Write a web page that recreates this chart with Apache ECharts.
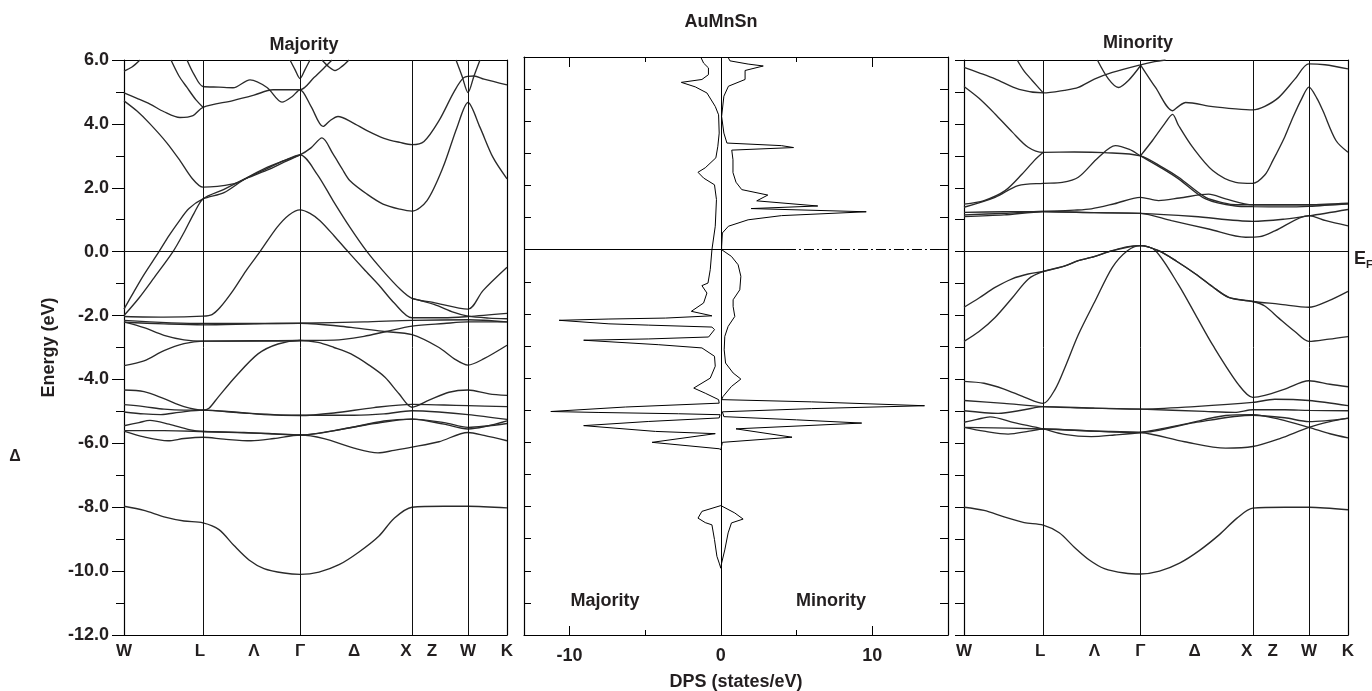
<!DOCTYPE html>
<html><head><meta charset="utf-8">
<script src="https://cdn.jsdelivr.net/npm/echarts@6/dist/echarts.min.js"></script>
<style>html,body{margin:0;padding:0;background:#fff}#c{width:1372px;height:691px}</style>
</head><body><div id="c"></div>
<script>
// ---------- data ----------
// k-path positions of high-symmetry points (W, L, Γ, X, W, K)
const kSymLines = [79, 176, 288, 344];
const kLabelNames = ['W', 'L', 'Λ', 'Γ', 'Δ', 'X', 'Z', 'W', 'K'];
const kLabelValues = [0, 76, 130, 176, 230, 282, 308, 344, 383];
const dosTickMajor = [-10, 10];
const dosTickMinor = [-5, 5];
const dosLabelValues = [-10, 0, 10];

// Majority bands: [k, E(eV)]
const majS = [[0,-7.97],[20,-8.1],[40,-8.3],[60,-8.43],[79,-8.49],[95,-8.7],[110,-9.2],[125,-9.65],[140,-9.92],[160,-10.06],[176,-10.1],[195,-10.03],[215,-9.8],[235,-9.4],[255,-8.9],[270,-8.35],[288,-8.0],[320,-7.97],[344,-7.97],[383,-8.02]];
const majD1 = [[0,-4.79],[20,-4.85],[40,-4.93],[60,-4.96],[79,-4.96],[110,-5.02],[140,-5.1],[176,-5.13],[210,-5.05],[250,-4.88],[288,-4.78],[320,-4.8],[344,-4.82],[383,-4.85]];
const majD2 = [[0,-5.02],[20,-5.08],[37,-5.1],[55,-5.03],[79,-4.96],[120,-5.05],[176,-5.12],[230,-5.12],[260,-5.08],[288,-4.98],[315,-5.02],[344,-5.1],[383,-5.25]];
const majD3 = [[0,-5.45],[15,-5.35],[26,-5.28],[45,-5.4],[65,-5.57],[79,-5.63],[120,-5.66],[150,-5.7],[176,-5.74],[210,-5.6],[250,-5.38],[288,-5.24],[320,-5.35],[344,-5.5],[383,-5.38]];
const majD4 = [[0,-5.62],[20,-5.8],[44,-5.92],[60,-5.85],[79,-5.81],[100,-5.87],[127,-5.92],[150,-5.85],[176,-5.74],[200,-5.85],[230,-6.15],[254,-6.3],[270,-6.22],[288,-6.12],[315,-5.95],[344,-5.66],[360,-5.75],[383,-5.92]];
const majD5 = [[0,-5.6],[40,-5.6],[79,-5.63],[130,-5.68],[176,-5.74],[220,-5.55],[260,-5.3],[288,-5.24],[320,-5.4],[344,-5.55],[383,-5.3]];
const majArch = [[0,-4.33],[20,-4.38],[40,-4.6],[60,-4.85],[79,-4.96],[85,-4.9],[94,-4.56],[111,-3.93],[134,-3.2],[154,-2.89],[176,-2.78],[194,-2.84],[210,-3.0],[227,-3.2],[245,-3.55],[261,-3.93],[275,-4.45],[288,-4.87],[305,-4.65],[325,-4.4],[344,-4.33],[365,-4.45],[383,-4.5]];
const majT1 = [[0,-2.2],[20,-2.38],[40,-2.62],[60,-2.76],[79,-2.8],[130,-2.79],[176,-2.78],[210,-2.77],[240,-2.65],[262,-2.5],[288,-2.33],[320,-2.25],[344,-2.2],[383,-2.2]];
const majT2 = [[0,-3.57],[20,-3.42],[40,-3.1],[60,-2.88],[79,-2.8],[130,-2.8],[176,-2.78]];
const majE1 = [[0,-2.21],[40,-2.26],[79,-2.29],[130,-2.26],[176,-2.24],[227,-2.37],[260,-2.5],[288,-2.6],[315,-3.0],[330,-3.35],[344,-3.55],[360,-3.35],[383,-2.93]];
const majE2 = [[0,-2.15],[79,-2.25],[176,-2.24],[240,-2.2],[288,-2.15],[344,-2.13],[383,-2.2]];
const majC1 = [[0,-2.03],[40,-2.05],[79,-2.02],[88,-1.97],[96,-1.75],[109,-1.22],[122,-0.6],[136,0],[153,0.76],[165,1.15],[176,1.31],[186,1.2],[196,0.97],[210,0.5],[224,0],[240,-0.55],[255,-1.05],[270,-1.6],[288,-2.07],[320,-2.07],[344,-2.03],[383,-1.93]];
const majC2 = [[0,-1.8],[10,-1.25],[20,-0.72],[35,0],[45,0.5],[55,0.95],[65,1.35],[79,1.65],[100,1.85],[121,2.28],[143,2.64],[160,2.85],[176,3.03],[187,3.25],[198,3.56],[209,3.06],[218,2.6],[226,2.22],[243,1.8],[259,1.49],[276,1.33],[288,1.27],[303,1.6],[319,2.64],[333,3.89],[344,4.67],[356,3.89],[369,2.95],[383,2.28]];
const majC3 = [[0,-2.0],[15,-1.45],[30,-0.82],[49,0],[60,0.6],[70,1.2],[79,1.65],[100,1.95],[121,2.28],[143,2.6],[160,2.85],[176,3.03],[193,2.43],[209,1.6],[226,0.76],[243,0],[259,-0.6],[276,-1.17],[288,-1.46],[309,-1.59],[344,-1.8],[359,-1.22],[383,-0.49]];
const majC4 = [[288,-1.46],[310,-1.65],[330,-1.9],[344,-2.02],[365,-2.08],[383,-2.1]];
const majC5 = [[0,4.72],[13,4.4],[26,4.0],[43,3.4],[56,2.85],[68,2.3],[79,2.02],[109,2.12],[121,2.28],[143,2.55],[160,2.8],[176,3.03]];
const majU1 = [[0,4.97],[13,4.8],[26,4.62],[40,4.38],[56,4.2],[69,4.26],[79,4.52],[109,4.73],[130,4.9],[149,5.07],[176,5.07],[190,5.45],[200,5.75],[208,6.0]];
const majU2 = [[47,6.0],[55,5.5],[63,5.14],[72,4.75],[79,4.52]];
const majU3 = [[63,6.0],[70,5.55],[79,5.17],[95,5.15],[109,5.13],[126,5.38],[143,5.14],[158,4.68],[168,4.85],[176,5.07],[187,4.55],[199,3.92],[206,4.1],[214,4.23],[228,4.05],[243,3.79],[260,3.55],[276,3.42],[288,3.35],[300,3.45],[315,4.1],[330,5.0],[340,5.45],[350,5.5],[360,5.4],[383,5.22]];
const majU4 = [[0,5.65],[8,5.78],[16,6.0]];
const majU5 = [[166,6.0],[171,5.7],[176,5.42],[181,5.7],[186,6.0]];
const majU6 = [[198,6.0],[205,5.78],[211,5.67],[218,5.8],[225,6.0]];
const majU7 = [[332,6.0],[338,5.5],[344,4.98],[350,5.5],[356,6.0]];

// Minority bands: [k, E(eV)]
const minS = [[0,-8.0],[20,-8.1],[40,-8.3],[60,-8.48],[79,-8.56],[95,-8.8],[110,-9.25],[125,-9.65],[140,-9.92],[160,-10.06],[176,-10.09],[195,-10.0],[215,-9.75],[235,-9.35],[255,-8.85],[272,-8.35],[288,-8.03],[320,-8.0],[344,-8.0],[383,-8.08]];
const minD1 = [[0,-4.66],[40,-4.75],[79,-4.85],[130,-4.9],[176,-4.93],[230,-4.85],[288,-4.72],[310,-4.62],[344,-4.66],[383,-4.82]];
const minD2 = [[0,-4.98],[34,-5.06],[60,-4.95],[79,-4.85],[130,-4.9],[176,-4.93],[240,-5.0],[270,-5.03],[288,-4.95],[320,-4.95],[344,-4.97],[383,-4.98]];
const minD3 = [[0,-5.34],[13,-5.25],[26,-5.17],[50,-5.35],[79,-5.55],[100,-5.72],[127,-5.79],[150,-5.74],[176,-5.66],[220,-5.4],[261,-5.13],[288,-5.1],[315,-5.25],[344,-5.5],[365,-5.7],[383,-5.83]];
const minD4 = [[0,-5.5],[20,-5.62],[44,-5.71],[65,-5.62],[79,-5.55],[130,-5.62],[176,-5.66],[220,-5.95],[261,-6.15],[288,-6.1],[315,-5.85],[344,-5.5],[365,-5.32],[383,-5.21]];
const minD5 = [[0,-5.5],[79,-5.55],[176,-5.66],[230,-5.35],[288,-5.12],[320,-5.2],[344,-5.32],[383,-5.22]];
const minP1 = [[0,-4.06],[20,-4.12],[40,-4.3],[60,-4.55],[79,-4.75],[91,-4.3],[101,-3.6],[114,-2.6],[131,-1.53],[148,-0.49],[163,0.03],[176,0.19],[191,0.03],[214,-1.04],[231,-1.98],[248,-2.92],[274,-4.17],[288,-4.56],[300,-4.5],[320,-4.3],[344,-4.04],[365,-4.15],[383,-4.23]];
const minP2 = [[0,-1.74],[15,-1.45],[31,-1.12],[48,-0.85],[64,-0.7],[79,-0.62],[100,-0.45],[114,-0.28],[127,-0.18],[148,0.03],[162,0.15],[176,0.19],[194,0.03],[212,-0.3],[231,-0.7],[248,-1.1],[264,-1.43],[288,-1.56],[314,-1.64],[344,-1.74],[364,-1.53],[383,-1.24]];
const minP3 = [[0,-2.81],[15,-2.5],[31,-2.06],[48,-1.45],[64,-0.86],[79,-0.62],[100,-0.45],[114,-0.28],[127,-0.18],[148,0.03],[176,0.19],[194,0.03],[212,-0.3],[231,-0.7],[248,-1.1],[264,-1.43],[288,-1.56],[300,-1.7],[314,-2.08],[330,-2.5],[344,-2.81],[364,-2.74],[383,-2.66]];
const minB1 = [[0,1.15],[40,1.2],[79,1.26],[130,1.22],[176,1.2],[230,1.1],[288,0.95],[320,1.02],[344,1.12],[383,1.32]];
const minB2 = [[0,1.1],[40,1.15],[79,1.25],[130,1.22],[176,1.2],[207,0.97],[244,0.71],[281,0.45],[295,0.47],[310,0.65],[344,1.13],[361,0.97],[383,0.81]];
const minB3 = [[0,1.23],[40,1.25],[79,1.26],[110,1.3],[127,1.34],[150,1.5],[176,1.7],[194,1.6],[215,1.68],[244,1.8],[261,1.65],[288,1.47],[320,1.47],[344,1.47],[383,1.52]];
const minB4 = [[0,1.49],[20,1.6],[41,1.91],[58,2.43],[70,2.85],[79,3.11]];
const minB5 = [[0,1.39],[31,1.7],[54,2.07],[79,2.14],[98,2.17],[114,2.33],[134,2.95],[151,3.32],[165,3.2],[176,3.0],[198,2.6],[214,2.28],[241,1.65],[271,1.43],[288,1.41],[320,1.4],[344,1.42],[383,1.5]];
const minB6 = [[0,5.17],[15,4.8],[31,4.31],[48,3.75],[64,3.27],[79,3.11],[110,3.12],[140,3.1],[176,3.0],[198,2.64],[214,2.33],[241,1.7],[260,1.52],[271,1.47],[288,1.47],[320,1.47],[344,1.47],[383,1.5]];
const minB7 = [[176,3.0],[188,3.48],[200,4.0],[208,4.3],[214,3.95],[228,3.27],[248,2.54],[271,2.17],[288,2.14],[300,2.4],[308,2.85],[320,3.6],[328,4.2],[337,4.8],[344,5.15],[352,4.8],[358,4.41],[371,3.48],[383,3.11]];
const minU1 = [[176,5.85],[191,5.14],[208,4.41],[214,4.55],[221,4.67],[248,4.54],[271,4.47],[288,4.44],[300,4.55],[314,4.83],[330,5.4],[344,5.88],[360,5.85],[383,5.72]];
const minU2 = [[0,5.77],[15,5.6],[31,5.41],[55,5.08],[79,4.97],[100,5.05],[114,5.14],[130,5.4],[148,5.61],[176,5.85],[190,5.95],[201,6.0]];
const minU3 = [[53,6.0],[60,5.65],[68,5.36],[79,4.97]];
const minU4 = [[133,6.0],[144,5.41],[154,5.14],[164,5.36],[176,5.82]];

// Density of states: [DOS (states/eV), E(eV)]; majority negative, minority positive
const dosMajority = [[-1.3,5.97],[-1.14,5.81],[-0.82,5.66],[-0.82,5.45],[-1.25,5.3],[-2.61,5.21],[-1.69,5.07],[-0.92,4.88],[-0.37,4.46],[-0.15,4.2],[-0.11,3.63],[-0.2,3.22],[-0.33,2.86],[-1.03,2.55],[-1.51,2.41],[-1.14,2.23],[-0.42,2.02],[-0.29,1.56],[-0.37,0.73],[-0.59,0],[-0.7,-0.62],[-0.85,-1.04],[-1.25,-1.12],[-0.92,-1.35],[-1.14,-1.66],[-1.95,-1.92],[-0.59,-2.06],[-3.66,-2.13],[-7.39,-2.16],[-10.68,-2.2],[-7.39,-2.31],[-4.76,-2.35],[-0.59,-2.41],[-0.42,-2.49],[-0.81,-2.72],[-4.76,-2.78],[-9.06,-2.82],[-4.1,-2.96],[-1.25,-3.06],[-0.42,-3.32],[-0.37,-3.63],[-0.7,-4.0],[-1.79,-4.31],[-1.03,-4.47],[-0.15,-4.67],[-0.11,-4.78],[-6.3,-4.9],[-11.23,-5.04],[-8.05,-5.07],[-2.79,-5.11],[-0.05,-5.14],[-0.11,-5.24],[-4.76,-5.35],[-9.06,-5.48],[-4.32,-5.66],[-0.37,-5.73],[-0.26,-5.79],[-4.54,-6.0],[-0.11,-6.2],[0,-6.23]];
const dosMajorityLow = [[0,-7.97],[-1.25,-8.15],[-1.51,-8.36],[-1.03,-8.5],[-0.59,-8.57],[-0.42,-9.03],[-0.26,-9.55],[-0.11,-9.76],[0,-9.92]];
const dosMinority = [[0.5,5.97],[0.6,5.88],[1.8,5.78],[2.8,5.72],[1.6,5.58],[1.6,5.3],[0.5,5.09],[0.2,4.78],[0.05,4.15],[0.2,3.63],[0.4,3.32],[4.0,3.24],[4.8,3.18],[0.72,3.1],[0.8,2.8],[0.8,2.4],[1.0,2.1],[1.38,1.87],[3.1,1.7],[2.37,1.52],[6.4,1.36],[2.0,1.28],[9.6,1.18],[4.0,1.06],[1.8,0.93],[0.5,0.73],[0.1,0.52],[0.05,0.1],[0.05,0],[0.7,-0.21],[1.14,-0.47],[1.32,-0.83],[1.25,-1.25],[0.81,-1.56],[0.81,-1.77],[0.92,-2.08],[0.48,-2.39],[0.26,-2.7],[0.22,-3.12],[0.31,-3.53],[0.81,-3.84],[1.32,-4.03],[0.7,-4.26],[0.15,-4.57],[0.05,-4.67],[6.0,-4.74],[13.45,-4.86],[6.0,-4.95],[0.1,-5.05],[0.2,-5.2],[5.0,-5.3],[9.3,-5.4],[1.0,-5.58],[4.7,-5.84],[0.1,-6.0],[0,-6.23]];
const dosMinorityLow = [[0,-7.97],[0.92,-8.2],[1.47,-8.39],[0.7,-8.51],[0.48,-8.82],[0.26,-9.35],[0.05,-9.76],[0,-9.92]];
const efSolidEnd = 4.3;

const majBands = [majS, majD1, majD2, majD3, majD4, majD5, majArch, majT1, majT2, majE1, majE2, majC1, majC2, majC3, majC4, majC5, majU1, majU2, majU3, majU4, majU5, majU6, majU7];
const minBands = [minS, minD1, minD2, minD3, minD4, minD5, minP1, minP2, minP3, minB1, minB2, minB3, minB4, minB5, minB6, minB7, minU1, minU2, minU3, minU4];

// ---------- chart ----------
const FONT = 'Liberation Sans';
const TXT = '#231f20';
const lblFont = {fontFamily: FONT, fontWeight: 'bold', fontSize: 18, color: TXT};
const frame = {onZero: false, lineStyle: {color: '#000', width: 1.2}};
const noLine = {show: false, onZero: false};
const kFmt = v => { const i = kLabelValues.indexOf(v); return i >= 0 ? kLabelNames[i] : ''; };

const symLines = {
  silent: true, symbol: ['none', 'none'], label: {show: false}, animation: false,
  lineStyle: {color: '#111', width: 1, type: 'solid'},
  data: kSymLines.map(k => ({xAxis: k})).concat([{yAxis: 0}])
};

function bandSeries(bands, xi, yi) {
  return bands.map((b, i) => ({
    type: 'line', xAxisIndex: xi, yAxisIndex: yi, data: b, smooth: 0.3,
    showSymbol: false, symbol: 'none', silent: true, animation: false, z: 3,
    lineStyle: {color: '#2a2a2a', width: 1.35},
    markLine: i === 0 ? symLines : undefined
  }));
}

function dosSeries(d, withMark) {
  return {
    type: 'line', xAxisIndex: 2, yAxisIndex: 2, data: d, smooth: false,
    showSymbol: false, symbol: 'none', silent: true, animation: false, z: 3,
    lineStyle: {color: '#000', width: 1},
    markLine: withMark ? {
      silent: true, symbol: ['none', 'none'], label: {show: false}, animation: false,
      lineStyle: {color: '#000', width: 1, type: 'solid'},
      data: [
        {xAxis: 0},
        [{coord: [-13, 0]}, {coord: [efSolidEnd, 0]}],
        [{coord: [efSolidEnd, 0], lineStyle: {type: [10, 3, 2, 3], color: '#000', width: 1}}, {coord: [15, 0]}]
      ]
    } : undefined
  };
}

const bandXAxis = (g) => ([
  {gridIndex: g, type: 'value', min: 0, max: 383, position: 'bottom', axisLine: frame,
   axisTick: {show: false}, splitLine: {show: false},
   axisLabel: {customValues: kLabelValues, formatter: kFmt, margin: 8, fontFamily: FONT, fontWeight: 'bold', fontSize: 17, color: TXT}},
  {gridIndex: g, type: 'value', min: 0, max: 383, position: 'top', axisLine: frame,
   axisTick: {show: false}, axisLabel: {show: false}, splitLine: {show: false}}
]);

const option = {
  backgroundColor: '#fff',
  animation: false,
  grid: [
    {left: 124, top: 60, width: 383, height: 575, containLabel: false, outerBoundsMode: 'none'},
    {left: 524, top: 57, width: 424, height: 578, containLabel: false, outerBoundsMode: 'none'},
    {left: 964, top: 60, width: 384, height: 575, containLabel: false, outerBoundsMode: 'none'}
  ],
  xAxis: [
    ...bandXAxis(0),
    {gridIndex: 1, type: 'value', min: -13, max: 15, position: 'bottom', axisLine: frame, splitLine: {show: false},
     axisTick: {customValues: dosTickMajor, inside: true, length: 9, lineStyle: {color: '#000'}},
     axisLabel: {customValues: dosLabelValues, margin: 12, ...lblFont},
     name: 'DPS (states/eV)', nameLocation: 'middle', nameGap: 38, nameTextStyle: lblFont},
    {gridIndex: 1, type: 'value', min: -13, max: 15, position: 'bottom', axisLine: noLine, splitLine: {show: false},
     axisTick: {customValues: dosTickMinor, inside: true, length: 5, lineStyle: {color: '#000'}}, axisLabel: {show: false}},
    {gridIndex: 1, type: 'value', min: -13, max: 15, position: 'top', axisLine: frame, splitLine: {show: false},
     axisTick: {customValues: dosTickMajor, inside: true, length: 10, lineStyle: {color: '#000'}}, axisLabel: {show: false}},
    {gridIndex: 1, type: 'value', min: -13, max: 15, position: 'top', axisLine: noLine, splitLine: {show: false},
     axisTick: {customValues: dosTickMinor, inside: true, length: 5, lineStyle: {color: '#000'}}, axisLabel: {show: false}},
    ...bandXAxis(2)
  ],
  yAxis: [
    {gridIndex: 0, type: 'value', min: -12, max: 6, interval: 2, position: 'left', axisLine: frame, splitLine: {show: false},
     axisTick: {length: 12, lineStyle: {color: '#000', width: 1}},
     minorTick: {show: true, splitNumber: 2, length: 8, lineStyle: {color: '#000', width: 1}},
     axisLabel: {formatter: v => v.toFixed(1), margin: 15, ...lblFont},
     name: 'Energy (eV)', nameLocation: 'middle', nameGap: 66, nameTextStyle: lblFont},
    {gridIndex: 0, type: 'value', min: -12, max: 6, position: 'right', axisLine: frame, splitLine: {show: false},
     axisTick: {show: false}, axisLabel: {show: false}},
    {gridIndex: 1, type: 'value', min: -12, max: 6, interval: 1, position: 'left', axisLine: frame, splitLine: {show: false},
     axisTick: {inside: true, length: 7, lineStyle: {color: '#000'}}, axisLabel: {show: false}},
    {gridIndex: 1, type: 'value', min: -12, max: 6, interval: 1, position: 'right', axisLine: frame, splitLine: {show: false},
     axisTick: {inside: true, length: 8, lineStyle: {color: '#000'}}, axisLabel: {show: false}},
    {gridIndex: 2, type: 'value', min: -12, max: 6, interval: 1, position: 'left', axisLine: frame, splitLine: {show: false},
     axisTick: {length: 9, lineStyle: {color: '#000'}}, axisLabel: {show: false}},
    {gridIndex: 2, type: 'value', min: -12, max: 6, position: 'right', axisLine: frame, splitLine: {show: false},
     axisTick: {show: false}, axisLabel: {show: false}}
  ],
  graphic: [
    {type: 'text', x: 304, y: 45, style: {text: 'Majority', font: 'bold 18px "Liberation Sans"', fill: TXT, align: 'center', verticalAlign: 'middle', textAlign: 'center', textVerticalAlign: 'middle'}},
    {type: 'text', x: 721, y: 22, style: {text: 'AuMnSn', font: 'bold 18px "Liberation Sans"', fill: TXT, align: 'center', verticalAlign: 'middle', textAlign: 'center', textVerticalAlign: 'middle'}},
    {type: 'text', x: 1138, y: 43, style: {text: 'Minority', font: 'bold 18px "Liberation Sans"', fill: TXT, align: 'center', verticalAlign: 'middle', textAlign: 'center', textVerticalAlign: 'middle'}},
    {type: 'text', x: 605, y: 601, style: {text: 'Majority', font: 'bold 18px "Liberation Sans"', fill: TXT, align: 'center', verticalAlign: 'middle', textAlign: 'center', textVerticalAlign: 'middle'}},
    {type: 'text', x: 831, y: 601, style: {text: 'Minority', font: 'bold 18px "Liberation Sans"', fill: TXT, align: 'center', verticalAlign: 'middle', textAlign: 'center', textVerticalAlign: 'middle'}},
    {type: 'text', x: 1354, y: 259, style: {text: 'E', font: 'bold 18px "Liberation Sans"', fill: TXT, align: 'left', verticalAlign: 'middle', textAlign: 'left', textVerticalAlign: 'middle'}},
    {type: 'text', x: 1366, y: 265, style: {text: 'F', font: 'bold 11px "Liberation Sans"', fill: TXT, align: 'left', verticalAlign: 'middle', textAlign: 'left', textVerticalAlign: 'middle'}},
    {type: 'text', x: 15, y: 457, style: {text: 'Δ', font: 'bold 16px "Liberation Sans"', fill: TXT, align: 'center', verticalAlign: 'middle', textAlign: 'center', textVerticalAlign: 'middle'}}
  ],
  series: [
    ...bandSeries(majBands, 0, 0),
    dosSeries(dosMajority, true),
    dosSeries(dosMajorityLow, false),
    dosSeries(dosMinority, false),
    dosSeries(dosMinorityLow, false),
    ...bandSeries(minBands, 6, 4)
  ]
};

const chart = echarts.init(document.getElementById('c'), null, {renderer: 'canvas'});
chart.setOption(option);
</script>
</body></html>
